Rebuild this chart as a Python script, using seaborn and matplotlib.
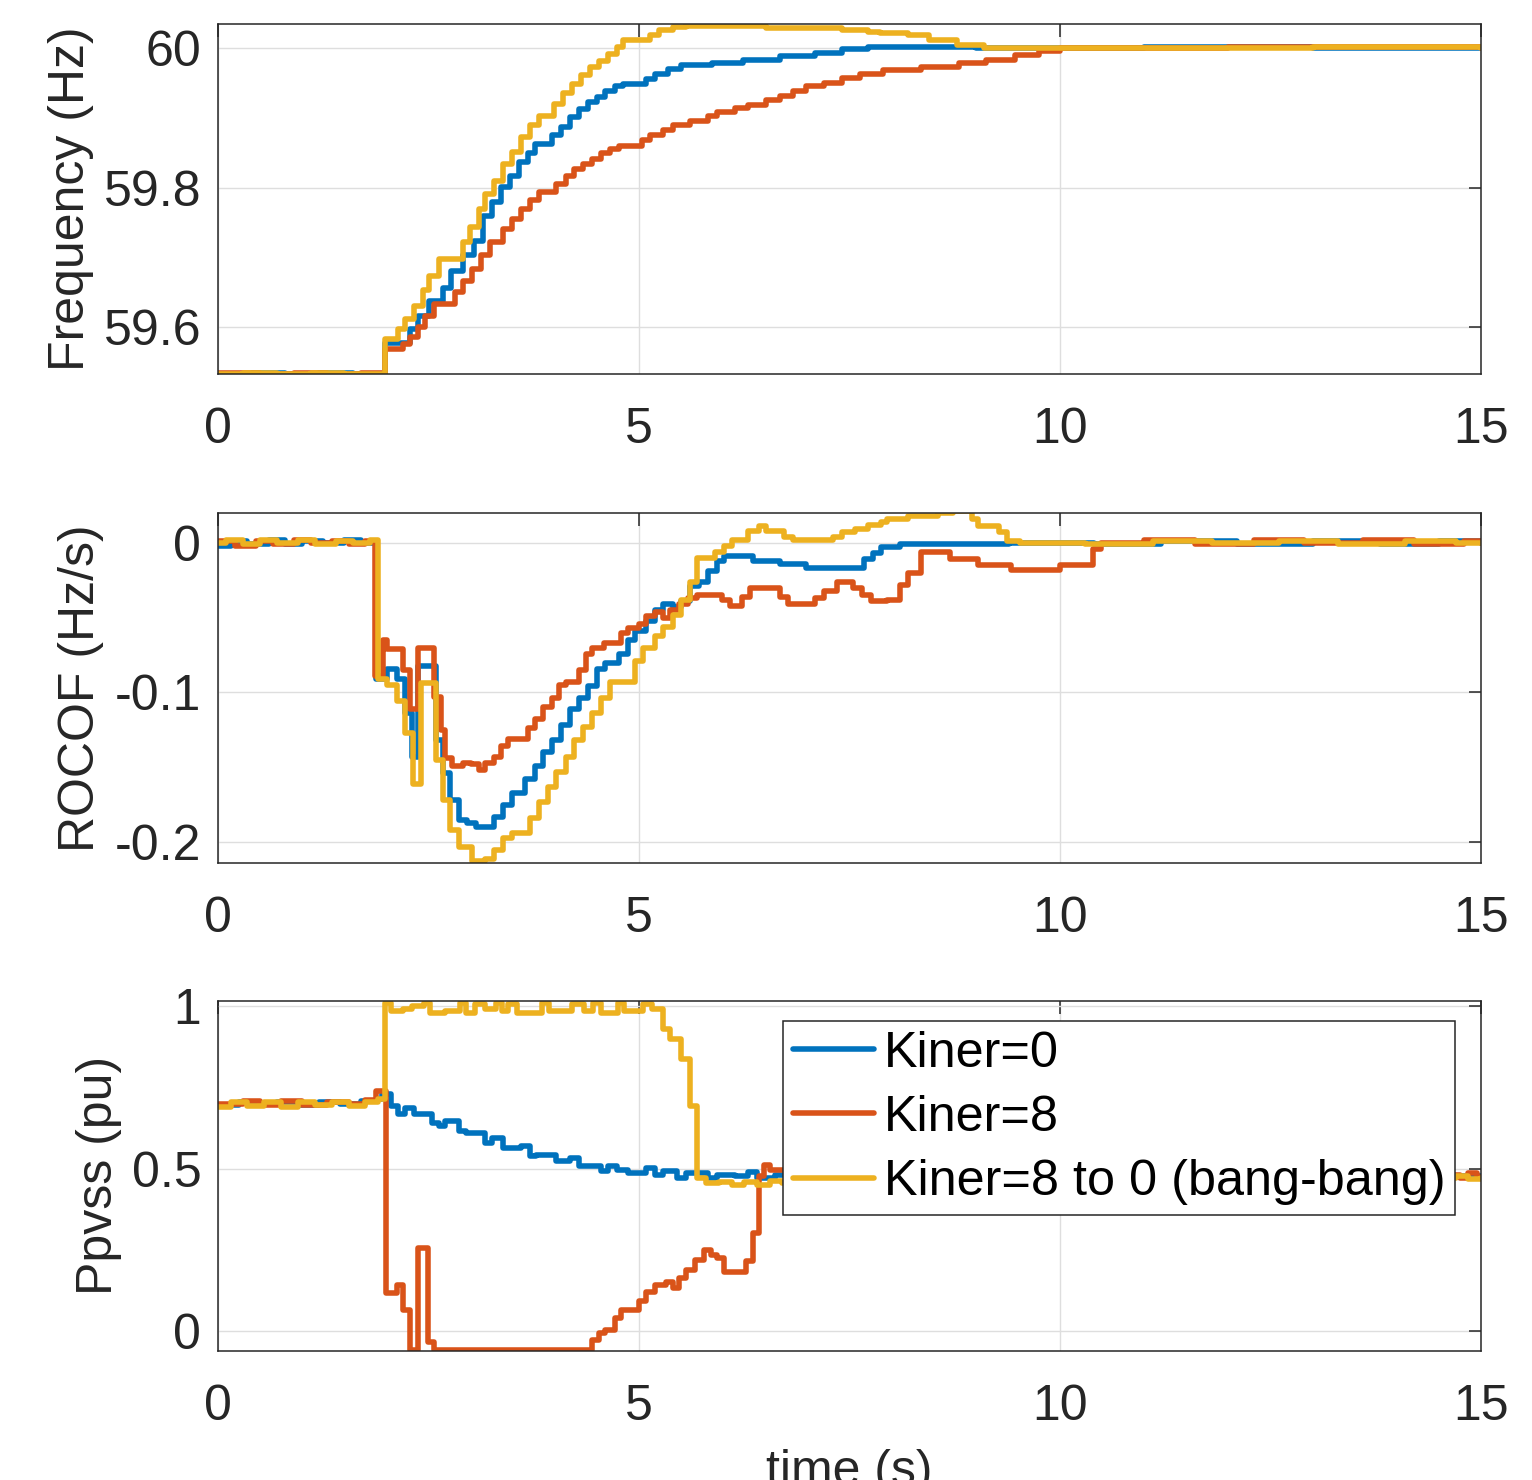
import matplotlib
matplotlib.use("Agg")
import matplotlib.pyplot as plt
import pandas as pd
import seaborn as sns

# ---------------- data ----------------
series_names = ["Kiner=0", "Kiner=8", "Kiner=8 to 0 (bang-bang)"]
series_colors = ["#0072BD", "#D95319", "#EDB120"]

x_ticks = [0, 5, 10, 15]
x_tick_labels = ["0", "5", "10", "15"]

freq_ticks = [59.6, 59.8, 60.0]
freq_tick_labels = ["59.6", "59.8", "60"]
rocof_ticks = [-0.2, -0.1, 0.0]
rocof_tick_labels = ["-0.2", "-0.1", "0"]
pv_ticks = [0.0, 0.5, 1.0]
pv_tick_labels = ["0", "0.5", "1"]

# Frequency (Hz), sample-and-hold breakpoints
freq_blue_t = [0, 0.4, 0.8, 1.2, 1.6, 1.98, 2.28, 2.38, 2.51, 2.67, 2.77, 2.91, 3.04, 3.15,
               3.25, 3.36, 3.47, 3.57, 3.68, 3.76, 3.97, 4.07, 4.18, 4.29, 4.39, 4.50, 4.60,
               4.71, 4.81, 5.08, 5.19, 5.34, 5.50, 5.87, 6.24, 6.67, 7.09, 7.41, 7.72, 9.0,
               11.0, 13.0, 15.0]
freq_blue = [59.534, 59.535, 59.533, 59.535, 59.534, 59.578, 59.598, 59.617, 59.638, 59.657,
             59.681, 59.703, 59.724, 59.760, 59.779, 59.801, 59.817, 59.837, 59.850, 59.863,
             59.875, 59.887, 59.901, 59.913, 59.923, 59.930, 59.939, 59.946, 59.949, 59.956,
             59.963, 59.970, 59.975, 59.979, 59.983, 59.989, 59.993, 59.998, 60.001, 60.0,
             60.001, 60.0, 60.0]

freq_red_t = [0, 0.5, 0.9, 1.3, 1.7, 1.98, 2.20, 2.28, 2.38, 2.46, 2.57, 2.81, 2.91, 3.02,
              3.12, 3.23, 3.39, 3.49, 3.60, 3.70, 3.81, 4.02, 4.13, 4.23, 4.34, 4.44, 4.55,
              4.66, 4.76, 5.03, 5.13, 5.29, 5.40, 5.61, 5.82, 5.93, 6.14, 6.30, 6.51, 6.67,
              6.83, 6.98, 7.20, 7.41, 7.62, 7.90, 8.35, 8.80, 9.12, 9.47, 9.75, 10.0, 12.0, 15.0]
freq_red = [59.535, 59.533, 59.535, 59.533, 59.535, 59.569, 59.576, 59.586, 59.600, 59.617,
            59.633, 59.650, 59.667, 59.684, 59.703, 59.722, 59.741, 59.755, 59.770, 59.782,
            59.794, 59.805, 59.817, 59.827, 59.834, 59.841, 59.849, 59.856, 59.860, 59.868,
            59.875, 59.882, 59.889, 59.896, 59.903, 59.909, 59.914, 59.919, 59.926, 59.931,
            59.939, 59.946, 59.950, 59.957, 59.962, 59.969, 59.973, 59.978, 59.983, 59.990,
            59.995, 60.0, 60.001, 60.0]

freq_yellow_t = [0, 0.3, 0.7, 1.1, 1.5, 1.98, 2.14, 2.22, 2.33, 2.43, 2.51, 2.62, 2.91, 2.99,
                 3.10, 3.17, 3.28, 3.39, 3.49, 3.60, 3.70, 3.81, 3.99, 4.10, 4.21, 4.31, 4.42,
                 4.52, 4.63, 4.74, 4.81, 5.13, 5.24, 5.40, 5.56, 6.14, 6.51, 7.41, 7.72, 7.86,
                 8.20, 8.45, 8.78, 9.10, 11.0, 13.0, 15.0]
freq_yellow = [59.533, 59.535, 59.533, 59.535, 59.533, 59.583, 59.598, 59.612, 59.631, 59.653,
               59.674, 59.698, 59.722, 59.743, 59.770, 59.791, 59.810, 59.834, 59.851, 59.872,
               59.889, 59.903, 59.920, 59.935, 59.949, 59.961, 59.973, 59.982, 59.992, 60.001,
               60.011, 60.018, 60.026, 60.030, 60.032, 60.031, 60.029, 60.026, 60.023, 60.022,
               60.018, 60.012, 60.004, 60.0, 60.0, 60.001, 60.0]

# ROCOF (Hz/s)
rocof_blue_t = [0, 0.15, 0.35, 0.6, 0.8, 1.0, 1.25, 1.5, 1.7, 1.88, 2.01, 2.12, 2.22, 2.30,
                2.38, 2.59, 2.67, 2.75, 2.86, 2.96, 3.07, 3.28, 3.39, 3.49, 3.65, 3.76, 3.86,
                3.97, 4.07, 4.18, 4.29, 4.39, 4.50, 4.60, 4.76, 4.87, 4.95, 5.08, 5.19, 5.29,
                5.40, 5.50, 5.61, 5.71, 5.82, 5.93, 6.01, 6.35, 6.67, 6.98, 7.67, 7.78, 7.88,
                8.10, 9.40, 10.4, 11.2, 12.1, 13.0, 13.8, 14.5, 15.0]
rocof_blue = [-0.002, 0.001, -0.001, 0.002, -0.001, 0.001, 0.0, 0.002, 0.0, -0.091, -0.084,
              -0.091, -0.114, -0.143, -0.082, -0.132, -0.154, -0.172, -0.185, -0.187, -0.190,
              -0.183, -0.175, -0.167, -0.158, -0.149, -0.140, -0.132, -0.122, -0.111, -0.104,
              -0.096, -0.084, -0.080, -0.074, -0.065, -0.059, -0.052, -0.045, -0.041, -0.043,
              -0.039, -0.029, -0.026, -0.019, -0.012, -0.009, -0.012, -0.014, -0.017, -0.011,
              -0.007, -0.003, -0.001, 0.0, -0.001, 0.001, -0.001, 0.001, -0.001, 0.001, 0.0]

rocof_red_t = [0, 0.2, 0.45, 0.65, 0.9, 1.1, 1.35, 1.55, 1.75, 1.87, 1.96, 2.01, 2.20, 2.28,
               2.38, 2.57, 2.65, 2.70, 2.78, 2.91, 3.01, 3.10, 3.17, 3.28, 3.36, 3.44, 3.68,
               3.76, 3.86, 3.97, 4.05, 4.13, 4.29, 4.37, 4.44, 4.58, 4.79, 4.87, 5.00, 5.08,
               5.19, 5.29, 5.37, 5.48, 5.58, 5.69, 5.98, 6.08, 6.22, 6.32, 6.67, 6.77, 7.09,
               7.20, 7.35, 7.54, 7.65, 7.75, 7.95, 8.10, 8.20, 8.35, 8.69, 9.03, 9.42, 10.0,
               10.39, 10.49, 11.0, 11.6, 12.3, 12.9, 13.6, 14.2, 14.8, 15.0]
rocof_red = [0.001, -0.002, 0.001, -0.001, 0.002, 0.0, 0.001, -0.001, 0.001, -0.089, -0.065,
             -0.071, -0.085, -0.111, -0.070, -0.103, -0.125, -0.144, -0.149, -0.147, -0.148,
             -0.152, -0.147, -0.143, -0.136, -0.131, -0.124, -0.118, -0.110, -0.104, -0.095,
             -0.093, -0.085, -0.074, -0.070, -0.067, -0.060, -0.057, -0.054, -0.049, -0.046,
             -0.050, -0.045, -0.041, -0.037, -0.035, -0.038, -0.042, -0.036, -0.030, -0.036,
             -0.041, -0.037, -0.032, -0.026, -0.030, -0.035, -0.039, -0.038, -0.028, -0.020,
             -0.006, -0.011, -0.015, -0.018, -0.015, -0.004, 0.0, 0.002, -0.001, 0.002, 0.0,
             0.002, -0.001, 0.001, 0.0]

rocof_yellow_t = [0, 0.1, 0.3, 0.5, 0.7, 0.95, 1.15, 1.4, 1.6, 1.8, 1.90, 2.01, 2.12, 2.22,
                  2.31, 2.41, 2.59, 2.67, 2.75, 2.86, 3.02, 3.17, 3.28, 3.39, 3.49, 3.70, 3.81,
                  3.92, 4.02, 4.13, 4.23, 4.34, 4.44, 4.55, 4.66, 4.95, 5.05, 5.19, 5.29, 5.40,
                  5.50, 5.61, 5.69, 5.90, 6.01, 6.11, 6.30, 6.43, 6.51, 6.72, 6.83, 7.30, 7.41,
                  7.56, 7.72, 7.88, 7.95, 8.20, 8.55, 8.73, 8.95, 9.03, 9.27, 9.37, 9.52, 10.3,
                  11.1, 11.8, 12.6, 13.3, 14.1, 14.7, 15.0]
rocof_yellow = [0.0, 0.002, -0.001, 0.002, 0.0, 0.002, -0.001, 0.001, 0.0, 0.002, -0.091,
                -0.095, -0.106, -0.127, -0.161, -0.094, -0.145, -0.172, -0.192, -0.203, -0.213,
                -0.211, -0.205, -0.197, -0.194, -0.184, -0.173, -0.163, -0.153, -0.143, -0.132,
                -0.123, -0.114, -0.104, -0.093, -0.079, -0.070, -0.062, -0.056, -0.048, -0.038,
                -0.026, -0.010, -0.006, -0.002, 0.002, 0.008, 0.011, 0.008, 0.004, 0.002, 0.004,
                0.007, 0.009, 0.012, 0.014, 0.016, 0.018, 0.020, 0.021, 0.016, 0.011, 0.007,
                0.001, 0.0, -0.001, 0.001, 0.0, 0.001, -0.001, 0.001, 0.0, 0.0]

# Ppvss (pu)
pv_blue_t = [0, 0.25, 0.45, 0.7, 0.95, 1.2, 1.45, 1.7, 1.88, 1.95, 2.06, 2.14, 2.22, 2.33,
             2.54, 2.62, 2.70, 2.86, 2.94, 3.17, 3.25, 3.39, 3.60, 3.70, 3.78, 4.02, 4.18,
             4.29, 4.55, 4.63, 4.74, 4.87, 5.08, 5.19, 5.29, 5.45, 5.56, 5.82, 5.93, 6.14,
             6.30, 6.40, 6.61, 8.0, 10.0, 12.0, 14.0, 15.0]
pv_blue = [0.695, 0.705, 0.698, 0.706, 0.697, 0.705, 0.700, 0.708, 0.715, 0.728, 0.692, 0.667,
           0.687, 0.667, 0.641, 0.631, 0.646, 0.615, 0.610, 0.579, 0.595, 0.564, 0.569, 0.538,
           0.543, 0.523, 0.533, 0.507, 0.492, 0.507, 0.497, 0.487, 0.502, 0.481, 0.492, 0.471,
           0.487, 0.471, 0.481, 0.476, 0.489, 0.471, 0.480, 0.476, 0.478, 0.476, 0.477, 0.476]

pv_red_t = [0, 0.3, 0.5, 0.75, 1.0, 1.3, 1.55, 1.75, 1.88, 1.99, 2.12, 2.20, 2.28, 2.38, 2.49,
            2.57, 4.44, 4.52, 4.60, 4.71, 4.79, 5.00, 5.08, 5.19, 5.32, 5.40, 5.48, 5.56, 5.66,
            5.77, 5.85, 5.93, 6.01, 6.27, 6.35, 6.43, 6.48, 6.56, 7.5, 9.0, 11.0, 13.0, 14.6,
            14.75, 14.85, 14.95, 15.0]
pv_red = [0.700, 0.708, 0.696, 0.707, 0.697, 0.706, 0.698, 0.710, 0.739, 0.116, 0.142, 0.065,
          -0.057, 0.255, -0.033, -0.057, -0.028, -0.007, 0.003, 0.039, 0.065, 0.091, 0.121,
          0.142, 0.152, 0.132, 0.163, 0.188, 0.219, 0.250, 0.235, 0.224, 0.183, 0.214, 0.301,
          0.476, 0.512, 0.497, 0.485, 0.480, 0.478, 0.480, 0.480, 0.470, 0.485, 0.475, 0.475]

pv_yellow_t = [0, 0.15, 0.35, 0.55, 0.75, 0.95, 1.15, 1.35, 1.55, 1.75, 1.90, 1.98, 2.05, 2.20,
               2.30, 2.45, 2.52, 2.70, 2.87, 2.95, 3.05, 3.17, 3.30, 3.37, 3.45, 3.55, 3.85,
               3.93, 4.20, 4.35, 4.45, 4.55, 4.75, 4.82, 5.05, 5.15, 5.29, 5.37, 5.50, 5.61,
               5.69, 5.80, 5.95, 6.10, 6.25, 6.40, 6.55, 6.70, 8.0, 10.0, 12.0, 14.0, 14.7,
               14.85, 15.0]
pv_yellow = [0.690, 0.705, 0.692, 0.706, 0.690, 0.705, 0.695, 0.706, 0.692, 0.705, 0.715, 1.010,
             0.985, 0.990, 1.000, 1.010, 0.980, 0.985, 1.010, 0.980, 1.005, 0.990, 1.010, 0.985,
             1.005, 0.980, 1.010, 0.985, 1.005, 0.985, 1.010, 0.980, 1.010, 0.985, 1.005, 0.990,
             0.929, 0.898, 0.836, 0.692, 0.471, 0.456, 0.460, 0.448, 0.460, 0.448, 0.462, 0.455,
             0.465, 0.470, 0.468, 0.470, 0.478, 0.468, 0.472]


def long_frame(pairs):
    frames = [pd.DataFrame({"time": t, "value": v, "series": name})
              for name, (t, v) in zip(series_names, pairs)]
    return pd.concat(frames, ignore_index=True)


panels = [
    dict(df=long_frame([(freq_blue_t, freq_blue), (freq_red_t, freq_red),
                        (freq_yellow_t, freq_yellow)]),
         ylim=(59.5333, 60.0343), ticks=freq_ticks, labels=freq_tick_labels,
         ylabel="Frequency (Hz)", label_x=-0.0985, rect=[0.1423, 0.7473, 0.8244, 0.2365]),
    dict(df=long_frame([(rocof_blue_t, rocof_blue), (rocof_red_t, rocof_red),
                        (rocof_yellow_t, rocof_yellow)]),
         ylim=(-0.2140, 0.0200), ticks=rocof_ticks, labels=rocof_tick_labels,
         ylabel="ROCOF (Hz/s)", label_x=-0.0905, rect=[0.1423, 0.4169, 0.8244, 0.2365]),
    dict(df=long_frame([(pv_blue_t, pv_blue), (pv_red_t, pv_red),
                        (pv_yellow_t, pv_yellow)]),
         ylim=(-0.0613, 1.0160), ticks=pv_ticks, labels=pv_tick_labels,
         ylabel="Ppvss (pu)", label_x=-0.0760, rect=[0.1423, 0.0872, 0.8244, 0.2365]),
]

# ---------------- style ----------------
sns.set_style("white")
plt.rcParams["font.family"] = ["Liberation Sans", "DejaVu Sans"]
plt.rcParams["axes.unicode_minus"] = False

edge = "#262626"
fs = 36
palette = dict(zip(series_names, series_colors))

fig = plt.figure(figsize=(15.32, 14.8), dpi=100)
axes = []
for p in panels:
    ax = fig.add_axes(p["rect"])
    sns.lineplot(data=p["df"], x="time", y="value", hue="series", hue_order=series_names,
                 palette=palette, estimator=None, sort=False, drawstyle="steps-post",
                 linewidth=4.0, legend=False, ax=ax)
    ax.set_xlim(0, 15)
    ax.set_ylim(*p["ylim"])
    ax.set_xticks(x_ticks)
    ax.set_xticklabels(x_tick_labels)
    ax.set_yticks(p["ticks"])
    ax.set_yticklabels(p["labels"])
    ax.grid(True, color="#dedede", linewidth=1.0)
    ax.set_axisbelow(True)
    ax.tick_params(axis="both", direction="in", length=9, width=1.1, colors=edge,
                   labelsize=fs, top=True, right=True)
    ax.tick_params(axis="x", pad=24)
    ax.tick_params(axis="y", pad=12)
    for s in ax.spines.values():
        s.set_visible(True)
        s.set_color(edge)
        s.set_linewidth(1.1)
    ax.set_xlabel("")
    ax.set_ylabel(p["ylabel"], fontsize=fs, color=edge)
    ax.yaxis.set_label_coords(p["label_x"], 0.5)
    axes.append(ax)

ax3 = axes[-1]
ax3.set_xlabel("time (s)", fontsize=fs, color=edge)
ax3.xaxis.set_label_coords(0.5, -0.28)

leg = ax3.legend(ax3.get_lines()[:3], series_names, loc="upper left",
                 bbox_to_anchor=(0.4473, 0.943), borderaxespad=0, fontsize=36.3,
                 frameon=True, fancybox=False, framealpha=1, edgecolor=edge,
                 handlelength=1.6, handletextpad=0.2, labelspacing=0.36, borderpad=0.2)
leg.get_frame().set_linewidth(1.1)
for txt in leg.get_texts():
    txt.set_color("black")

fig.savefig("out.png", dpi=100)
